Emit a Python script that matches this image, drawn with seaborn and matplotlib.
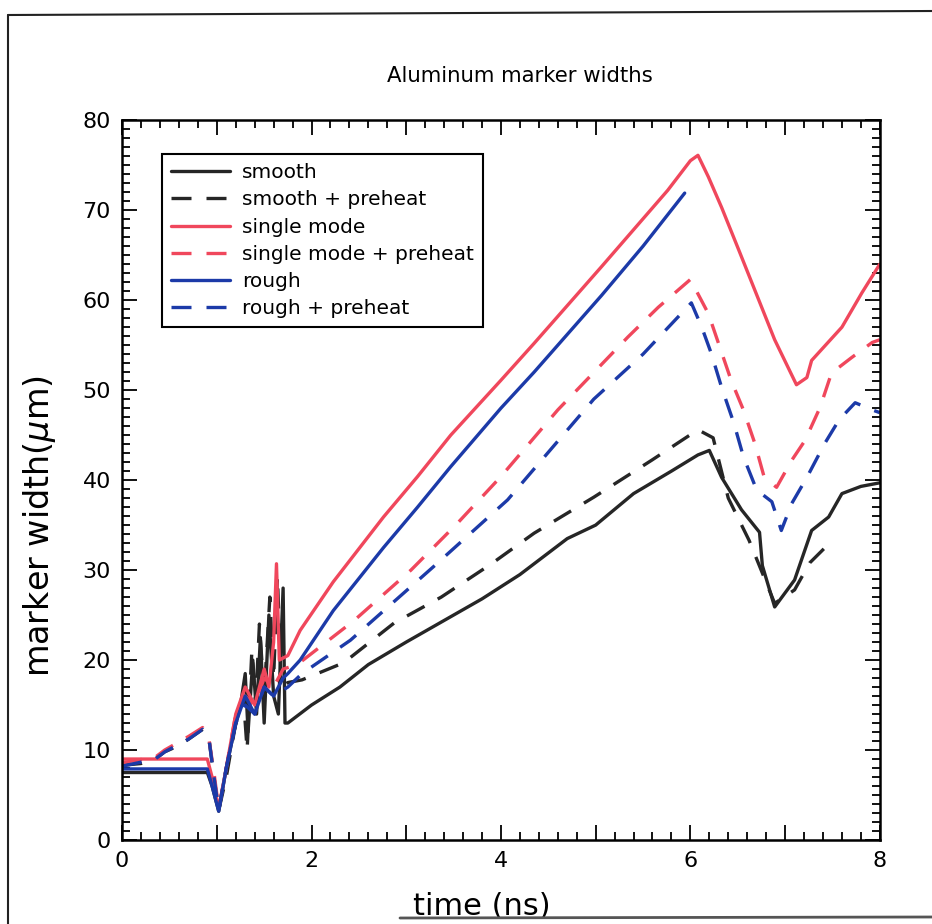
import numpy as np
import pandas as pd
import matplotlib
matplotlib.use("Agg")
import matplotlib.pyplot as plt
from matplotlib.lines import Line2D
from matplotlib.ticker import MultipleLocator, FuncFormatter
import seaborn as sns

# smooth
t_smooth = [0, 0.9, 0.95, 1.02, 1.1, 1.18, 1.25, 1.3, 1.33, 1.38, 1.42, 1.46, 1.5, 1.55, 1.6,
            1.65, 1.7, 1.72, 1.75, 1.9, 2.0, 2.3, 2.6, 3.0, 3.25, 3.5, 3.8, 4.2, 4.7, 5.0, 5.4,
            5.8, 6.08, 6.2, 6.33, 6.54, 6.73, 6.76, 6.89, 7.1, 7.28, 7.46, 7.6, 7.8, 8.0]
v_smooth = [7.5, 7.5, 6, 3.2, 8, 12, 15, 18.5, 12, 20, 14, 22.5, 13, 25, 16,
            14, 28, 13, 13, 14.2, 15, 17, 19.5, 22, 23.5, 25, 26.8, 29.5, 33.5, 35, 38.5,
            41, 42.8, 43.3, 40.3, 36.7, 34.2, 30.5, 25.9, 28.9, 34.4, 35.9, 38.5, 39.3, 39.7]

# smooth + preheat
t_smooth_ph = [0, 0.2, 0.35, 0.45, 0.6, 0.7, 0.85, 0.92, 0.97, 1.02, 1.1, 1.2, 1.28, 1.32, 1.37,
               1.41, 1.45, 1.5, 1.56, 1.6, 1.64, 1.68, 1.75, 1.9, 2.34, 2.87, 3.37, 3.9, 4.35,
               4.98, 5.59, 6.08, 6.24, 6.4, 6.62, 6.89, 7.1, 7.26, 7.47]
v_smooth_ph = [8.3, 8.5, 9, 9.8, 10.5, 11.2, 12.3, 11, 7, 3.3, 7, 13, 16, 10, 21,
               15, 24, 16, 27, 18, 29.3, 17, 17.5, 17.8, 19.7, 24.1, 27, 30.7, 34.1,
               38.1, 42.2, 45.6, 44.7, 38, 33.3, 26.3, 27.8, 30.8, 33]

# single mode
t_single = [0, 0.9, 0.95, 1.02, 1.1, 1.2, 1.3, 1.4, 1.5, 1.55, 1.6, 1.63, 1.66, 1.75, 1.88,
            2.23, 2.76, 3.12, 3.47, 4.0, 4.35, 5.06, 5.76, 6.0, 6.08, 6.19, 6.33, 6.51, 6.89,
            7.12, 7.23, 7.28, 7.6, 7.81, 8.0]
v_single = [9.0, 9.0, 7, 3.5, 8, 14, 17, 15, 19, 17, 22, 30.7, 20, 20.5, 23.3,
            28.7, 35.9, 40.4, 45, 51.1, 55.2, 63.7, 72.2, 75.5, 76.1, 73.7, 70.3, 65.6, 55.6,
            50.6, 51.4, 53.3, 57, 60.8, 64]

# single mode + preheat
t_single_ph = [0, 0.35, 0.45, 0.7, 0.85, 0.92, 0.97, 1.02, 1.1, 1.2, 1.3, 1.4, 1.5, 1.6, 1.7,
               1.85, 2.45, 3.05, 3.54, 4.0, 4.6, 5.34, 5.66, 6.0, 6.19, 6.31, 6.43, 6.56, 6.68,
               6.78, 6.91, 7.07, 7.21, 7.37, 7.49, 7.7, 7.92, 8.0]
v_single_ph = [8.6, 9.2, 10, 11.5, 12.5, 11, 7.5, 3.5, 8, 14, 16, 15, 18, 17, 19,
               19.5, 24.4, 30, 35.2, 40.4, 47.8, 55.9, 59.2, 62.3, 58.5, 54.8, 51.1, 47.8, 44.1,
               40.3, 39.2, 42.2, 44.4, 48.1, 51.9, 53.6, 55.3, 55.6]

# rough
t_rough = [0, 0.9, 0.95, 1.02, 1.1, 1.2, 1.3, 1.4, 1.5, 1.6, 1.7, 1.75, 1.88, 2.23, 2.76,
           3.12, 3.47, 4.0, 4.35, 5.06, 5.5, 5.94]
v_rough = [7.9, 7.9, 6, 3.2, 8, 13, 16, 14, 17, 16, 18, 18.5, 20, 25.5, 32.5,
           37, 41.5, 48, 52, 60.5, 66, 71.9]

# rough + preheat
t_rough_ph = [0, 0.35, 0.45, 0.7, 0.85, 0.92, 0.97, 1.02, 1.1, 1.2, 1.3, 1.4, 1.5, 1.6, 1.75,
              1.9, 2.41, 3.29, 4.07, 4.98, 5.5, 6.01, 6.12, 6.22, 6.33, 6.46, 6.56, 6.7, 6.86,
              6.96, 7.07, 7.23, 7.42, 7.57, 7.74, 7.92, 8.0]
v_rough_ph = [8.2, 9, 9.8, 11.2, 12.3, 11, 7, 3.3, 8, 13, 15, 14, 17, 16, 17,
              18.5, 22.2, 30.4, 37.8, 49, 54, 59.7, 57, 54.1, 50.3, 46.3, 42.6, 38.9, 37.6,
              34.4, 37.4, 40.3, 44.1, 46.7, 48.6, 47.8, 47.5]

labels = ["smooth", "smooth + preheat", "single mode", "single mode + preheat",
          "rough", "rough + preheat"]

RED = "#f0475c"
BLUE = "#1c3aa8"
BLACK = "#262626"
DASH = (0, (6, 4.5))

series = [
    (t_smooth, v_smooth, BLACK, "-"),
    (t_smooth_ph, v_smooth_ph, BLACK, DASH),
    (t_single, v_single, RED, "-"),
    (t_single_ph, v_single_ph, RED, DASH),
    (t_rough, v_rough, BLUE, "-"),
    (t_rough_ph, v_rough_ph, BLUE, DASH),
]

sns.set_theme(style="ticks")
plt.rcParams["font.family"] = ["DejaVu Sans"]
plt.rcParams["text.color"] = "black"
plt.rcParams["axes.labelcolor"] = "black"

fig = plt.figure(figsize=(9.32, 9.24), dpi=100)
ax = fig.add_axes([0.131, 0.0909, 0.813, 0.779])

for (t, v, c, ls), lab in zip(series, labels):
    df = pd.DataFrame({"time": t, "width": v})
    sns.lineplot(data=df, x="time", y="width", ax=ax, color=c, linestyle=ls,
                 linewidth=2.4, label=lab, estimator=None, sort=False)

ax.set_xlim(0, 8)
ax.set_ylim(0, 80)
ax.xaxis.set_major_locator(MultipleLocator(1))
ax.xaxis.set_minor_locator(MultipleLocator(0.2))
ax.xaxis.set_major_formatter(FuncFormatter(lambda x, p: f"{x:g}" if int(round(x)) % 2 == 0 else ""))
ax.yaxis.set_major_locator(MultipleLocator(10))
ax.yaxis.set_minor_locator(MultipleLocator(1))
ax.tick_params(which="both", direction="in", top=True, right=True, colors="black",
               labelsize=16, width=1.3)
ax.tick_params(which="major", length=11, pad=8)
ax.tick_params(which="minor", length=6)
for s in ax.spines.values():
    s.set_linewidth(1.8)
    s.set_color("black")

ax.set_xlabel("time (ns)", fontsize=22)
ax.set_ylabel("marker width($\\mu$m)", fontsize=24)
ax.xaxis.set_label_coords(0.475, -0.072)
ax.yaxis.set_label_coords(-0.085, 0.436)
fig.text(0.558, 0.918, "Aluminum marker widths", ha="center", va="center", fontsize=15.3)

leg = ax.legend(loc="upper left", bbox_to_anchor=(0.053, 0.953), fontsize=14.5,
                handlelength=2.9, handletextpad=0.6, labelspacing=0.41,
                borderpad=0.45, borderaxespad=0, fancybox=False, framealpha=1,
                edgecolor="black")
leg.get_frame().set_linewidth(1.5)

# scanned page frame
fig.add_artist(Line2D([8 / 932, 8 / 932], [0.0, 1 - 15 / 924], color="#222222", lw=1.5))
fig.add_artist(Line2D([8 / 932, 1.0], [1 - 15 / 924, 1 - 11 / 924], color="#222222", lw=1.5))
fig.add_artist(Line2D([400 / 932, 1.0], [1 - 918 / 924, 1 - 917 / 924], color="#555555", lw=2))

fig.savefig("out.png", dpi=100, facecolor="white")
